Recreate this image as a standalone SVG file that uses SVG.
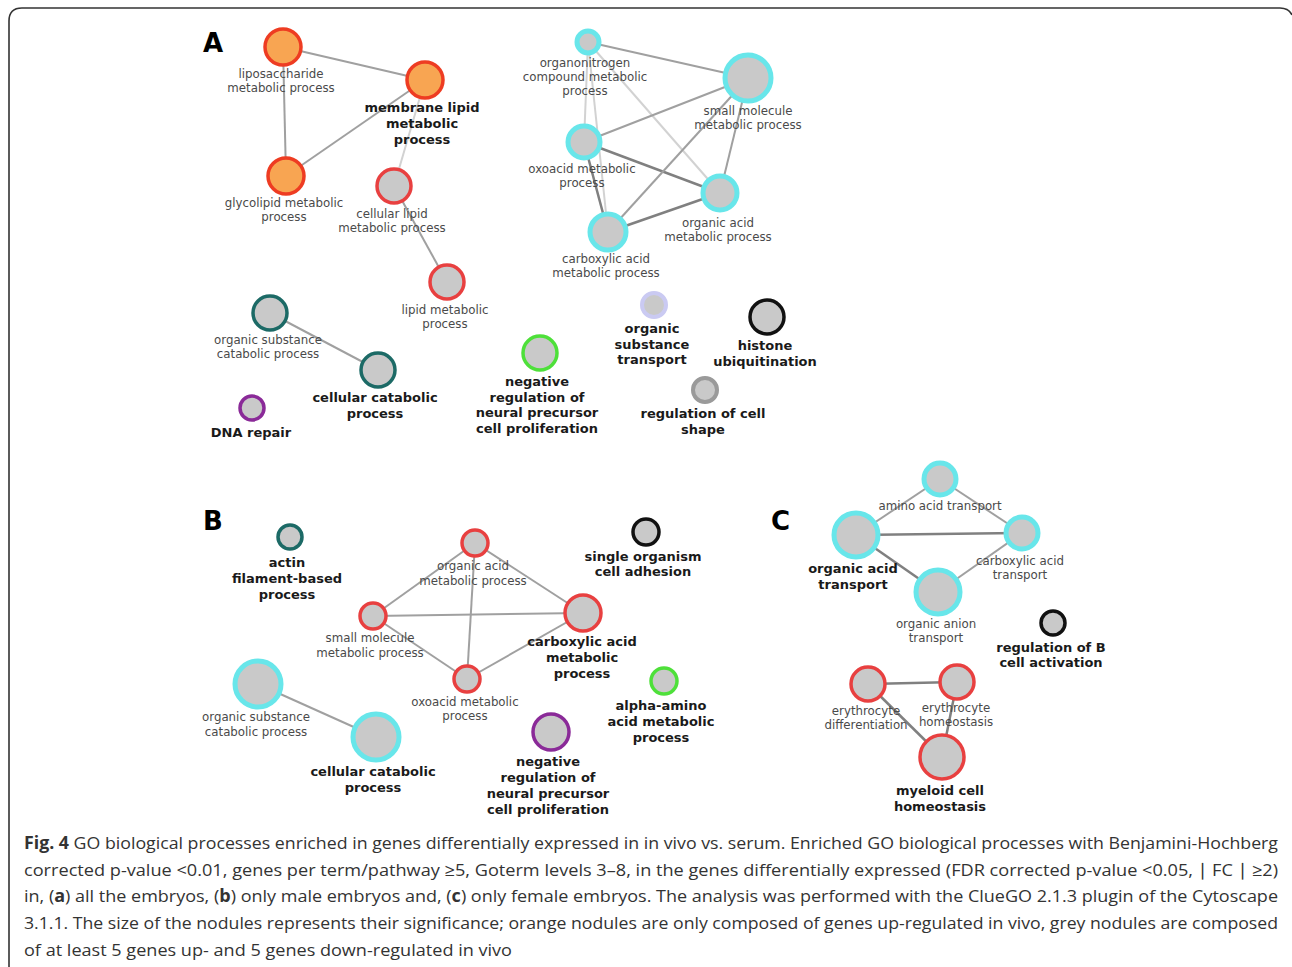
<svg xmlns="http://www.w3.org/2000/svg" width="1292" height="967" viewBox="0 0 1292 967">
<style>
.bg{fill:#fff}
.frame{fill:none;stroke:#333;stroke-width:1.6}
.pl{font-family:"DejaVu Sans",sans-serif;font-weight:bold;font-size:26px;fill:#000}
.n{fill:#c9c9c9;stroke-width:3.5}
.or{fill:#f8a552;stroke:#ee3c22;stroke-width:3.5}
.red{stroke:#e84040}
.cy{stroke:#68e6ea;stroke-width:5}
.teal{stroke:#1c6a66}
.pur{stroke:#8a2a98}
.grn{stroke:#4ee03a}
.lav{stroke:#cacaf2;stroke-width:4}
.blk{stroke:#111}
.gry{stroke:#9a9a9a;stroke-width:4}
.t{font-family:"DejaVu Sans",sans-serif;font-size:11.8px;fill:#4a4a4a;text-anchor:middle}
.b{font-family:"DejaVu Sans",sans-serif;font-size:13px;font-weight:bold;fill:#1a1a1a;text-anchor:middle}
.e{stroke:#a0a0a0;stroke-width:2;fill:none}
.ed{stroke:#808080;stroke-width:2.5;fill:none}
.el{stroke:#d2d2d2;stroke-width:2;fill:none}
.cap{font-family:"Open Sans",sans-serif;font-size:17px;fill:#333}
.cap .bo{font-weight:bold}
</style>
<rect class="bg" x="0" y="0" width="1292" height="967"/>
<path class="frame" d="M9,967 L9,21 Q9,8 22,8 L1280,8 Q1289,8 1292,15"/>
<g id="connectors">
<line class="e" x1="283" y1="47" x2="425" y2="80"/>
<line class="e" x1="283" y1="47" x2="286" y2="176"/>
<line class="e" x1="286" y1="176" x2="425" y2="80"/>
<line class="el" x1="425" y1="80" x2="394" y2="186"/>
<line class="e" x1="394" y1="186" x2="447" y2="282"/>
<line class="e" x1="588" y1="42" x2="748" y2="78"/>
<line class="el" x1="588" y1="42" x2="584" y2="142"/>
<line class="el" x1="588" y1="42" x2="608" y2="232"/>
<line class="el" x1="588" y1="42" x2="720" y2="193"/>
<line class="e" x1="584" y1="142" x2="748" y2="78"/>
<line class="ed" x1="584" y1="142" x2="720" y2="193"/>
<line class="ed" x1="584" y1="142" x2="608" y2="232"/>
<line class="e" x1="608" y1="232" x2="748" y2="78"/>
<line class="ed" x1="608" y1="232" x2="720" y2="193"/>
<line class="e" x1="748" y1="78" x2="720" y2="193"/>
<line class="e" x1="270" y1="313" x2="378" y2="370"/>
<line class="e" x1="475" y1="543" x2="373" y2="616"/>
<line class="e" x1="475" y1="543" x2="583" y2="613"/>
<line class="e" x1="475" y1="543" x2="467" y2="679"/>
<line class="e" x1="373" y1="616" x2="583" y2="613"/>
<line class="e" x1="373" y1="616" x2="467" y2="679"/>
<line class="e" x1="467" y1="679" x2="583" y2="613"/>
<line class="e" x1="258" y1="684" x2="376" y2="737"/>
<line class="e" x1="940" y1="479" x2="856" y2="535"/>
<line class="e" x1="940" y1="479" x2="1022" y2="533"/>
<line class="ed" x1="856" y1="535" x2="1022" y2="533"/>
<line class="ed" x1="856" y1="535" x2="938" y2="592"/>
<line class="e" x1="938" y1="592" x2="1022" y2="533"/>
<line class="ed" x1="868" y1="684" x2="957" y2="682"/>
<line class="ed" x1="868" y1="684" x2="942" y2="757"/>
<line class="ed" x1="957" y1="682" x2="942" y2="757"/>
</g>
<text class="pl" x="203" y="52">A</text>
<text class="pl" x="203" y="530">B</text>
<text class="pl" x="771" y="530">C</text>
<g id="a-liposaccharide"><circle class="or" cx="283" cy="47" r="18"/><text class="t" x="281" y="78">liposaccharide</text><text class="t" x="281" y="92">metabolic process</text></g>
<g id="a-membrane-lipid"><circle class="or" cx="425" cy="80" r="18"/><text class="b" x="422" y="112">membrane lipid</text><text class="b" x="422" y="128">metabolic</text><text class="b" x="422" y="144">process</text></g>
<g id="a-glycolipid"><circle class="or" cx="286" cy="176" r="18"/><text class="t" x="284" y="207">glycolipid metabolic</text><text class="t" x="284" y="221">process</text></g>
<g id="a-cellular-lipid"><circle class="n red" cx="394" cy="186" r="17"/><text class="t" x="392" y="218">cellular lipid</text><text class="t" x="392" y="232">metabolic process</text></g>
<g id="a-lipid-metabolic"><circle class="n red" cx="447" cy="282" r="17"/><text class="t" x="445" y="314">lipid metabolic</text><text class="t" x="445" y="328">process</text></g>
<g id="a-organonitrogen"><circle class="n cy" cx="588" cy="42" r="11"/><text class="t" x="585" y="67">organonitrogen</text><text class="t" x="585" y="81">compound metabolic</text><text class="t" x="585" y="95">process</text></g>
<g id="a-small-molecule"><circle class="n cy" cx="748" cy="78" r="23"/><text class="t" x="748" y="115">small molecule</text><text class="t" x="748" y="129">metabolic process</text></g>
<g id="a-oxoacid"><circle class="n cy" cx="584" cy="142" r="16"/><text class="t" x="582" y="173">oxoacid metabolic</text><text class="t" x="582" y="187">process</text></g>
<g id="a-organic-acid"><circle class="n cy" cx="720" cy="193" r="17"/><text class="t" x="718" y="227">organic acid</text><text class="t" x="718" y="241">metabolic process</text></g>
<g id="a-carboxylic-acid"><circle class="n cy" cx="608" cy="232" r="18"/><text class="t" x="606" y="263">carboxylic acid</text><text class="t" x="606" y="277">metabolic process</text></g>
<g id="a-organic-substance-catabolic"><circle class="n teal" cx="270" cy="313" r="17"/><text class="t" x="268" y="344">organic substance</text><text class="t" x="268" y="358">catabolic process</text></g>
<g id="a-cellular-catabolic"><circle class="n teal" cx="378" cy="370" r="17"/><text class="b" x="375" y="402">cellular catabolic</text><text class="b" x="375" y="418">process</text></g>
<g id="a-dna-repair"><circle class="n pur" cx="252" cy="408" r="12"/><text class="b" x="251" y="437">DNA repair</text></g>
<g id="a-negative-regulation"><circle class="n grn" cx="540" cy="353" r="17"/><text class="b" x="537" y="386">negative</text><text class="b" x="537" y="402">regulation of</text><text class="b" x="537" y="417">neural precursor</text><text class="b" x="537" y="433">cell proliferation</text></g>
<g id="a-organic-substance-transport"><circle class="n lav" cx="654" cy="305" r="12"/><text class="b" x="652" y="333">organic</text><text class="b" x="652" y="349">substance</text><text class="b" x="652" y="364">transport</text></g>
<g id="a-histone-ubiquitination"><circle class="n blk" cx="767" cy="317" r="17"/><text class="b" x="765" y="350">histone</text><text class="b" x="765" y="366">ubiquitination</text></g>
<g id="a-regulation-cell-shape"><circle class="n gry" cx="705" cy="390" r="12"/><text class="b" x="703" y="418">regulation of cell</text><text class="b" x="703" y="434">shape</text></g>
<g id="b-actin"><circle class="n teal" cx="290" cy="537" r="12"/><text class="b" x="287" y="567">actin</text><text class="b" x="287" y="583">filament-based</text><text class="b" x="287" y="599">process</text></g>
<g id="b-organic-acid"><circle class="n red" cx="475" cy="543" r="13"/><text class="t" x="473" y="570">organic acid</text><text class="t" x="473" y="585">metabolic process</text></g>
<g id="b-small-molecule"><circle class="n red" cx="373" cy="616" r="13"/><text class="t" x="370" y="642">small molecule</text><text class="t" x="370" y="657">metabolic process</text></g>
<g id="b-carboxylic-acid"><circle class="n red" cx="583" cy="613" r="18"/><text class="b" x="582" y="646">carboxylic acid</text><text class="b" x="582" y="662">metabolic</text><text class="b" x="582" y="678">process</text></g>
<g id="b-oxoacid"><circle class="n red" cx="467" cy="679" r="13"/><text class="t" x="465" y="706">oxoacid metabolic</text><text class="t" x="465" y="720">process</text></g>
<g id="b-single-organism"><circle class="n blk" cx="646" cy="532" r="13"/><text class="b" x="643" y="561">single organism</text><text class="b" x="643" y="576">cell adhesion</text></g>
<g id="b-alpha-amino"><circle class="n grn" cx="664" cy="681" r="13"/><text class="b" x="661" y="710">alpha-amino</text><text class="b" x="661" y="726">acid metabolic</text><text class="b" x="661" y="742">process</text></g>
<g id="b-negative-regulation"><circle class="n pur" cx="551" cy="732" r="18"/><text class="b" x="548" y="766">negative</text><text class="b" x="548" y="782">regulation of</text><text class="b" x="548" y="798">neural precursor</text><text class="b" x="548" y="814">cell proliferation</text></g>
<g id="b-organic-substance-catabolic"><circle class="n cy" cx="258" cy="684" r="23"/><text class="t" x="256" y="721">organic substance</text><text class="t" x="256" y="736">catabolic process</text></g>
<g id="b-cellular-catabolic"><circle class="n cy" cx="376" cy="737" r="23"/><text class="b" x="373" y="776">cellular catabolic</text><text class="b" x="373" y="792">process</text></g>
<g id="c-amino-acid-transport"><circle class="n cy" cx="940" cy="479" r="16"/><text class="t" x="940" y="510">amino acid transport</text></g>
<g id="c-organic-acid-transport"><circle class="n cy" cx="856" cy="535" r="22"/><text class="b" x="853" y="573">organic acid</text><text class="b" x="853" y="589">transport</text></g>
<g id="c-carboxylic-acid-transport"><circle class="n cy" cx="1022" cy="533" r="16"/><text class="t" x="1020" y="565">carboxylic acid</text><text class="t" x="1020" y="579">transport</text></g>
<g id="c-organic-anion-transport"><circle class="n cy" cx="938" cy="592" r="22"/><text class="t" x="936" y="628">organic anion</text><text class="t" x="936" y="642">transport</text></g>
<g id="c-regulation-b-cell"><circle class="n blk" cx="1053" cy="623" r="12"/><text class="b" x="1051" y="652">regulation of B</text><text class="b" x="1051" y="667">cell activation</text></g>
<g id="c-erythrocyte-differentiation"><circle class="n red" cx="868" cy="684" r="17"/><text class="t" x="866" y="715">erythrocyte</text><text class="t" x="866" y="729">differentiation</text></g>
<g id="c-erythrocyte-homeostasis"><circle class="n red" cx="957" cy="682" r="17"/><text class="t" x="956" y="712">erythrocyte</text><text class="t" x="956" y="726">homeostasis</text></g>
<g id="c-myeloid-cell-homeostasis"><circle class="n red" cx="942" cy="757" r="22"/><text class="b" x="940" y="795">myeloid cell</text><text class="b" x="940" y="811">homeostasis</text></g>
<g id="caption">
<text class="cap" x="24" y="849" textLength="1254" lengthAdjust="spacingAndGlyphs"><tspan class="bo">Fig. 4</tspan> GO biological processes enriched in genes differentially expressed in in vivo vs. serum. Enriched GO biological processes with Benjamini-Hochberg</text>
<text class="cap" x="24" y="876" textLength="1254" lengthAdjust="spacingAndGlyphs">corrected p-value &lt;0.01, genes per term/pathway ≥5, Goterm levels 3–8, in the genes differentially expressed (FDR corrected p-value &lt;0.05, ∣ FC ∣  ≥2)</text>
<text class="cap" x="24" y="902" textLength="1254" lengthAdjust="spacingAndGlyphs">in, (<tspan class="bo">a</tspan>) all the embryos, (<tspan class="bo">b</tspan>) only male embryos and, (<tspan class="bo">c</tspan>) only female embryos. The analysis was performed with the ClueGO 2.1.3 plugin of the Cytoscape</text>
<text class="cap" x="24" y="929" textLength="1254" lengthAdjust="spacingAndGlyphs">3.1.1. The size of the nodules represents their significance; orange nodules are only composed of genes up-regulated in vivo, grey nodules are composed</text>
<text class="cap" x="24" y="956" textLength="488" lengthAdjust="spacingAndGlyphs">of at least 5 genes up- and 5 genes down-regulated in vivo</text>
</g>
</svg>
